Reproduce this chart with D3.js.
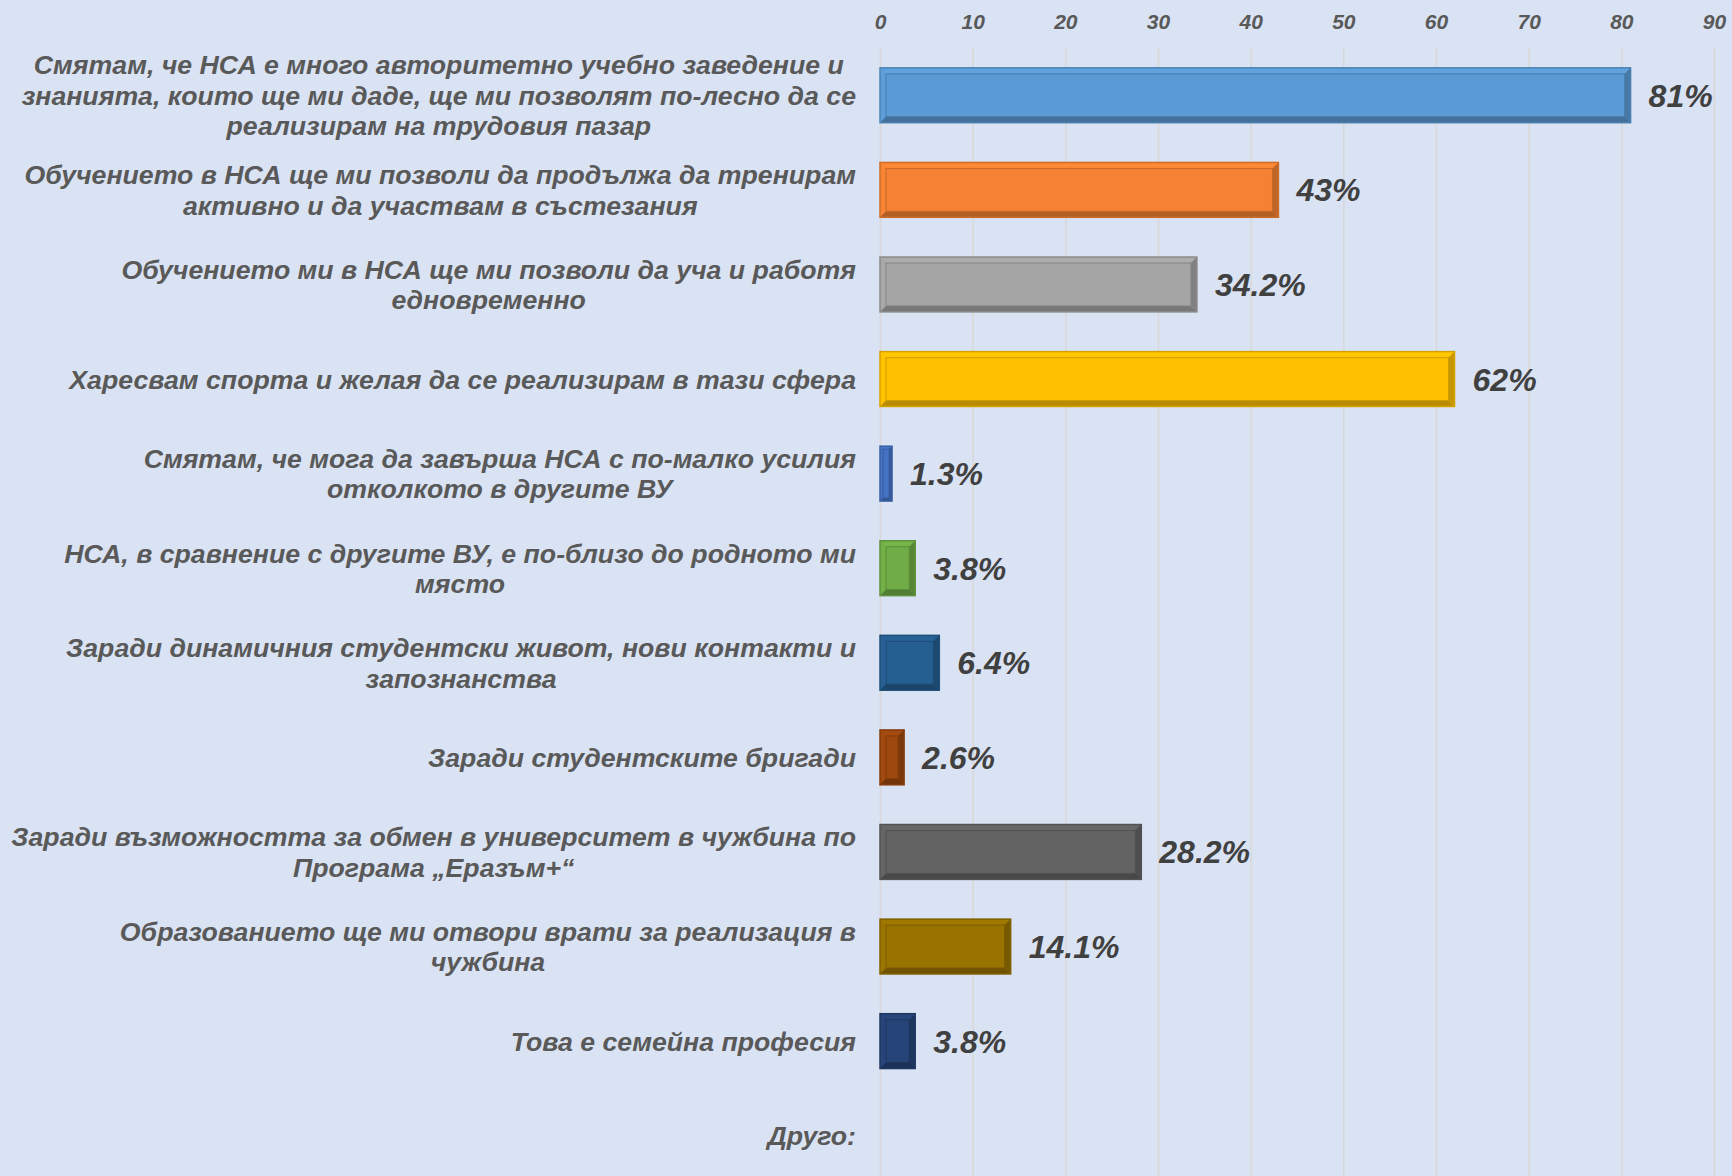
<!DOCTYPE html>
<html lang="bg">
<head>
    <meta charset="utf-8">
    <title>НСА - мотиви</title>
    <script src="https://cdn.jsdelivr.net/npm/d3@7"></script>
    <style>
        html, body { margin: 0; padding: 0; background: #dae3f3; }
        svg { display: block; font-family: "Liberation Sans", Arial, sans-serif; }
    </style>
</head>
<body>
<script>
    // categories (lines as shown in the chart)
    var categories = [
        ["Смятам, че НСА е много авторитетно учебно заведение и", "знанията, които ще ми даде, ще ми позволят по-лесно да се", "реализирам на трудовия пазар"],
        ["Обучението в НСА ще ми позволи да продължа да тренирам", "активно и да участвам в състезания"],
        ["Обучението ми в НСА ще ми позволи да уча и работя", "едновременно"],
        ["Харесвам спорта и желая да се реализирам в тази сфера"],
        ["Смятам, че мога да завърша НСА с по-малко усилия", "отколкото в другите ВУ"],
        ["НСА, в сравнение с другите ВУ, е по-близо до родното ми", "място"],
        ["Заради динамичния студентски живот, нови контакти и", "запознанства"],
        ["Заради студентските бригади"],
        ["Заради възможността за обмен в университет в чужбина по", "Програма „Еразъм+“"],
        ["Образованието ще ми отвори врати за реализация в", "чужбина"],
        ["Това е семейна професия"],
        ["Друго:"]
    ];
    var values = [81, 43, 34.2, 62, 1.3, 3.8, 6.4, 2.6, 28.2, 14.1, 3.8, null];
    var valueLabels = ["81%", "43%", "34.2%", "62%", "1.3%", "3.8%", "6.4%", "2.6%", "28.2%", "14.1%", "3.8%", ""];
    var colors = ["#5b9bd5", "#f58232", "#a5a5a5", "#ffc000", "#4472c4", "#70ad47",
                  "#255e91", "#9e480e", "#636363", "#997300", "#264478", "#888888"];
    var xTicks = [0, 10, 20, 30, 40, 50, 60, 70, 80, 90];

    var width = 1732, height = 1176;
    var plotTop = 48, plotBottom = 1183;
    var labelRight = 856;

    var svg = d3.select("body").append("svg")
        .attr("width", width)
        .attr("height", height);

    svg.append("rect").attr("width", width).attr("height", height).attr("fill", "#dae3f3");

    var x = d3.scaleLinear().domain([0, 90]).range([880, 1714]);
    var y = d3.scaleBand()
        .domain(d3.range(categories.length))
        .range([plotTop, plotBottom])
        .paddingInner(0.42)
        .paddingOuter(0.21);

    // top axis with gridlines
    var axis = svg.append("g")
        .attr("transform", "translate(0," + plotTop + ")")
        .call(d3.axisTop(x).tickValues(xTicks).tickSize(-(height - plotTop)).tickPadding(19));
    axis.select(".domain").remove();
    axis.selectAll(".tick line").attr("stroke", "#d8d8d8").attr("stroke-width", 1.5);
    axis.selectAll(".tick text")
        .attr("fill", "#595959")
        .style("font-size", "21px")
        .style("font-weight", "bold")
        .style("font-style", "italic")
        .style("font-family", "'Liberation Sans', Arial, sans-serif");

    // bars with a bevel look
    var shown = values.map(function(v, i) { return {v: v, i: i}; }).filter(function(d) { return d.v != null; });

    svg.append("g").selectAll("g")
        .data(shown)
        .enter().append("g")
        .each(function(d) {
            var g = d3.select(this);
            var c = d3.color(colors[d.i]);
            var x0 = x(0), x1 = x(d.v), y0 = y(d.i), h = y.bandwidth(), y1 = y0 + h;
            var w = x1 - x0;
            var b = Math.min(6, w / 4);
            g.append("rect")
                .attr("x", x0).attr("y", y0).attr("width", w).attr("height", h)
                .attr("fill", c.formatHex());
            var poly = function(pts, fill) {
                g.append("polygon").attr("points", pts.map(function(p) { return p.join(","); }).join(" ")).attr("fill", fill);
            };
            poly([[x0, y0], [x1, y0], [x1 - b, y0 + b], [x0 + b, y0 + b]], c.brighter(0.12).formatHex());
            poly([[x0, y0], [x0 + b, y0 + b], [x0 + b, y1 - b], [x0, y1]], c.brighter(0.05).formatHex());
            poly([[x0, y1], [x0 + b, y1 - b], [x1 - b, y1 - b], [x1, y1]], c.darker(0.9).formatHex());
            poly([[x1, y0], [x1, y1], [x1 - b, y1 - b], [x1 - b, y0 + b]], c.darker(0.7).formatHex());
            g.append("rect")
                .attr("x", x0 + b).attr("y", y0 + b).attr("width", Math.max(0, w - 2 * b)).attr("height", h - 2 * b)
                .attr("fill", "none").attr("stroke", c.darker(0.6).formatHex()).attr("stroke-width", 1);
            g.append("rect")
                .attr("x", x0).attr("y", y0).attr("width", w).attr("height", h)
                .attr("fill", "none").attr("stroke", c.darker(0.5).formatHex()).attr("stroke-width", 1.5);
        });

    // value labels
    svg.append("g").selectAll("text")
        .data(shown)
        .enter().append("text")
        .attr("x", function(d) { return x(d.v) + 18; })
        .attr("y", function(d) { return y(d.i) + y.bandwidth() / 2; })
        .attr("dy", "0.36em")
        .attr("fill", "#404040")
        .style("font-size", "32px")
        .style("font-weight", "bold")
        .style("font-style", "italic")
        .text(function(d) { return valueLabels[d.i]; });

    // category labels: block right-aligned, lines centred inside the block
    var lineH = 30.5;
    svg.append("g").selectAll("g")
        .data(categories)
        .enter().append("g")
        .each(function(lines, i) {
            var g = d3.select(this);
            var cy = y(i) + y.bandwidth() / 2;
            var texts = g.selectAll("text").data(lines).enter().append("text")
                .attr("y", function(d, j) { return cy + (j - (lines.length - 1) / 2) * lineH; })
                .attr("dy", "0.36em")
                .attr("fill", "#595959")
                .attr("text-anchor", "middle")
                .style("font-size", "26.7px")
                .style("font-weight", "bold")
                .style("font-style", "italic")
                .text(function(d) { return d; });
            var maxW = 0;
            texts.each(function() { maxW = Math.max(maxW, this.getComputedTextLength()); });
            texts.attr("x", labelRight - maxW / 2);
        });
</script>
</body>
</html>
